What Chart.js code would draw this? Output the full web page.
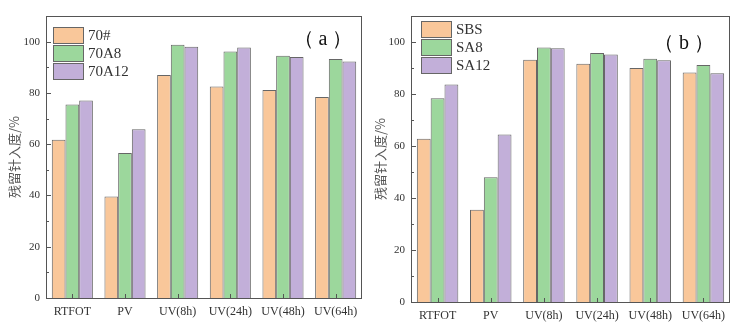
<!DOCTYPE html>
<html>
<head>
<meta charset="utf-8">
<script src="https://cdn.jsdelivr.net/npm/chart.js@4.4.1/dist/chart.umd.min.js"></script>
<style>
  html, body { margin: 0; padding: 0; background: #fff; }
  .wrap { display: flex; width: 744px; height: 330px; }
  .box { position: relative; width: 372px; height: 330px; }
</style>
</head>
<body>
<div class="wrap">
  <div class="box"><canvas id="chartA"></canvas></div>
  <div class="box"><canvas id="chartB"></canvas></div>
</div>
<script>
// categories shared by both panels
const categories = ['RTFOT', 'PV', 'UV(8h)', 'UV(24h)', 'UV(48h)', 'UV(64h)'];
const yTicks = [0, 20, 40, 60, 80, 100];

// panel (a)
const seriesA = ['70#', '70A8', '70A12'];
const a70 = [61.7, 39.6, 87.0, 82.5, 81.1, 78.4];
const a70A8 = [75.5, 56.6, 98.8, 96.2, 94.5, 93.2];
const a70A12 = [77.0, 65.8, 98.0, 97.7, 94.0, 92.3];

// panel (b)
const seriesB = ['SBS', 'SA8', 'SA12'];
const bSBS = [62.8, 35.5, 93.2, 91.6, 90.0, 88.3];
const bSA8 = [78.4, 48.0, 97.9, 95.8, 93.6, 91.2];
const bSA12 = [83.7, 64.4, 97.6, 95.2, 93.0, 88.0];

const colors = ['#f9c79a', '#9cd79c', '#c2afd9'];
const edge = '#666';
const serif = '"Liberation Serif", "DejaVu Serif", serif';

// frame, inward ticks, legend and panel tag
const decorPlugin = {
    id: 'decor',
    afterDraw(chart, args, opts) {
        const ctx = chart.ctx;
        const area = chart.chartArea;
        const x = chart.scales.x;
        const y = chart.scales.y;
        ctx.save();
        ctx.strokeStyle = '#555';
        ctx.lineWidth = 1;
        ctx.strokeRect(area.left + 0.5, area.top + 0.5, area.right - area.left - 1, area.bottom - area.top);

        // y ticks (major every 20, minor every 10)
        ctx.beginPath();
        for (let v = 0; v <= 100; v += 10) {
            const py = Math.round(y.getPixelForValue(v)) + 0.5;
            const len = v % 20 === 0 ? 5 : 3;
            ctx.moveTo(area.left, py);
            ctx.lineTo(area.left + len, py);
        }
        // x ticks at category centres
        categories.forEach((c, i) => {
            const px = Math.round(x.getPixelForValue(i)) + 0.5;
            ctx.moveTo(px, area.bottom);
            ctx.lineTo(px, area.bottom - 4);
        });
        ctx.stroke();

        // legend inside the plot
        const lx = area.left + opts.legendX;
        let ly = area.top + opts.legendY;
        ctx.font = '15px ' + serif;
        ctx.textBaseline = 'middle';
        chart.data.datasets.forEach((ds) => {
            ctx.fillStyle = ds.backgroundColor;
            ctx.fillRect(lx, ly, 30, 16);
            ctx.strokeStyle = edge;
            ctx.strokeRect(lx + 0.5, ly + 0.5, 30, 16);
            ctx.fillStyle = '#333';
            ctx.fillText(ds.label, lx + 35, ly + 9);
            ly += 18;
        });

        // panel tag
        ctx.font = '20px ' + serif;
        ctx.fillStyle = '#111';
        ctx.textAlign = 'center';
        ctx.fillText(opts.tag, area.left + opts.tagX, area.top + opts.tagY);
        ctx.restore();
    }
};

function makeChart(id, names, values, tag, pad, leftW, bottomH, titlePad) {
    const datasets = names.map((n, i) => ({
        label: n,
        data: values[i],
        backgroundColor: colors[i],
        borderColor: edge,
        borderWidth: 1,
        categoryPercentage: 0.78,
        barPercentage: 1.0
    }));

    return new Chart(document.getElementById(id), {
        type: 'bar',
        data: { labels: categories, datasets: datasets },
        options: {
            responsive: true,
            maintainAspectRatio: false,
            animation: false,
            layout: { padding: pad },
            plugins: {
                legend: { display: false },
                tooltip: { enabled: false },
                decor: tag
            },
            scales: {
                x: {
                    grid: { display: false, drawTicks: false },
                    border: { display: false },
                    ticks: {
                        color: '#333',
                        font: { family: serif, size: 12 },
                        padding: 7,
                        maxRotation: 0,
                        autoSkip: false
                    },
                    afterFit(scale) { scale.height = bottomH; }
                },
                y: {
                    min: 0,
                    max: 110,
                    afterBuildTicks(scale) {
                        scale.ticks = yTicks.map(v => ({ value: v }));
                    },
                    grid: { display: false, drawTicks: false },
                    border: { display: false },
                    ticks: {
                        color: '#333',
                        font: { family: serif, size: 11 },
                        padding: 6
                    },
                    title: {
                        display: true,
                        text: '残留针入度/%',
                        color: '#555',
                        font: { family: '"Noto Sans CJK SC", sans-serif', size: 13 },
                        padding: { top: titlePad, bottom: 0 }
                    },
                    afterFit(scale) { scale.width = leftW; }
                }
            }
        },
        plugins: [decorPlugin]
    });
}

makeChart('chartA', seriesA, [a70, a70A8, a70A12],
    { tag: '（ a ）', tagX: 277, tagY: 24, legendX: 7, legendY: 11 },
    { top: 16, right: 10, left: 0, bottom: 0 }, 46, 32, 6);

makeChart('chartB', seriesB, [bSBS, bSA8, bSA12],
    { tag: '（ b ）', tagX: 273, tagY: 28, legendX: 10, legendY: 5 },
    { top: 16, right: 14, left: 0, bottom: 0 }, 39, 28, 0);
</script>
</body>
</html>
